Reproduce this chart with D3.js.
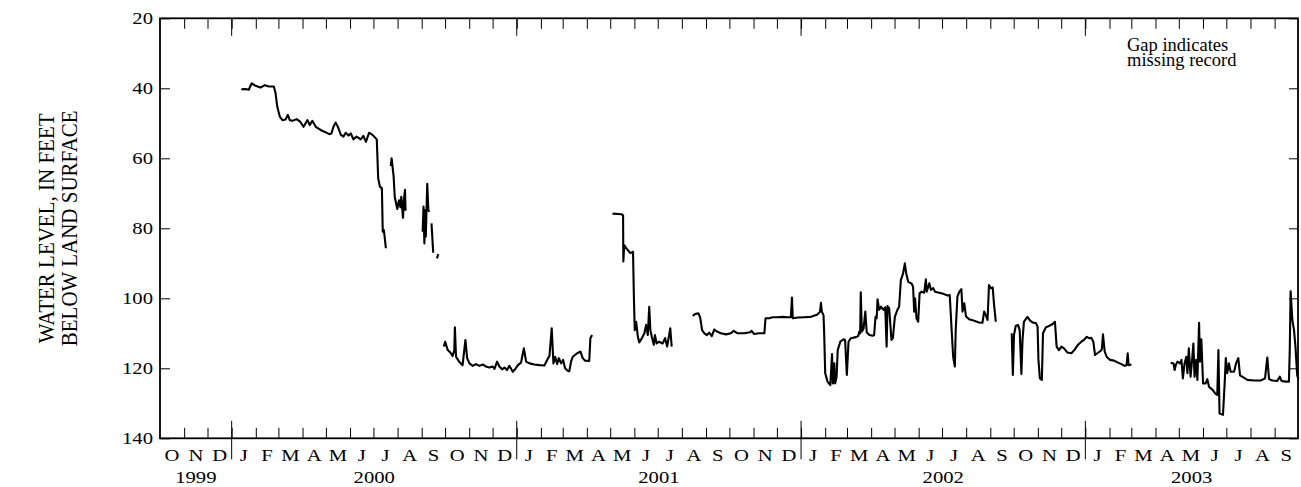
<!DOCTYPE html>
<html>
<head>
<meta charset="utf-8">
<script src="https://cdn.jsdelivr.net/npm/d3@7"></script>
<style>
  body { margin: 0; background: #fff; }
  text { font-family: "Liberation Serif", "Times New Roman", serif; fill: #000; }
</style>
</head>
<body>
<svg id="chart" width="1301" height="487"></svg>
<script>
// Water level, feet below land surface; time as decimal year.
const levelTicks = [20, 40, 60, 80, 100, 120, 140];
const monthLetters = ["J", "F", "M", "A", "M", "J", "J", "A", "S", "O", "N", "D"];
const yearLabels = [1999, 2000, 2001, 2002, 2003];
const noteLines = ["Gap indicates", "missing record"];
const titleLines = ["WATER LEVEL, IN FEET", "BELOW LAND SURFACE"];

// Continuous runs of record; gaps between runs are missing record.
const recJan2000 = [[2000.034,40.3],[2000.049,40.2],[2000.060,40.4],[2000.070,38.6],[2000.084,39.3],[2000.101,39.8],[2000.116,39.1],[2000.131,39.5],[2000.148,39.5],[2000.154,41.4],[2000.160,45.3],[2000.169,48.1],[2000.178,49.1],[2000.189,48.9],[2000.197,47.6],[2000.204,49.1],[2000.213,49.3],[2000.228,48.8],[2000.240,49.5],[2000.252,51.0],[2000.266,49.1],[2000.274,50.5],[2000.283,49.3],[2000.295,51.0],[2000.312,51.9],[2000.330,52.6],[2000.342,53.1],[2000.350,52.9],[2000.357,51.0],[2000.365,49.8],[2000.373,51.1],[2000.383,53.3],[2000.392,53.8],[2000.400,52.7],[2000.410,53.5],[2000.418,52.9],[2000.427,54.6],[2000.438,53.8],[2000.453,54.6],[2000.462,53.6],[2000.471,55.3],[2000.482,52.7],[2000.494,53.3],[2000.509,54.6],[2000.514,65.7],[2000.520,68.1],[2000.527,68.6],[2000.530,81.0],[2000.534,80.5],[2000.541,85.7]];
const recJul2000 = [[2000.558,62.2],[2000.561,60.0],[2000.568,65.0],[2000.572,71.0],[2000.581,74.5],[2000.587,72.0],[2000.592,74.0],[2000.595,71.0],[2000.601,77.0],[2000.604,72.0],[2000.608,69.0],[2000.610,75.0]];
const recAug2000a = [[2000.670,81.0],[2000.673,73.8],[2000.676,84.3],[2000.679,74.8],[2000.681,82.4],[2000.686,67.3],[2000.690,74.8],[2000.693,75.3]];
const recAug2000b = [[2000.701,78.6],[2000.707,87.0]];
const recSep2000a = [[2000.720,88.6],[2000.725,87.4]];
const recSep2000b = [[2000.744,113.8],[2000.749,112.4],[2000.758,114.8],[2000.767,115.5],[2000.775,116.5],[2000.781,114.8],[2000.783,108.3],[2000.787,116.7],[2000.798,118.1],[2000.810,119.1],[2000.820,111.9],[2000.826,117.1],[2000.834,118.6],[2000.846,119.3],[2000.857,118.8],[2000.869,119.3],[2000.881,118.9],[2000.892,119.5],[2000.904,119.8],[2000.916,119.5],[2000.922,120.2],[2000.931,118.1],[2000.939,119.5],[2000.949,120.3],[2000.957,119.8],[2000.966,120.5],[2000.974,119.3],[2000.986,121.0],[2000.995,120.2],[2001.004,119.1],[2001.015,118.4],[2001.025,114.3],[2001.033,118.1],[2001.045,118.6],[2001.062,118.9],[2001.080,119.1],[2001.097,119.2],[2001.107,117.6],[2001.115,116.5],[2001.123,108.6],[2001.129,118.6],[2001.135,116.7],[2001.142,118.8],[2001.148,117.1],[2001.156,118.6],[2001.163,117.6],[2001.170,120.0],[2001.180,120.8],[2001.185,120.8],[2001.191,118.1],[2001.197,116.7],[2001.209,115.9],[2001.224,115.2],[2001.232,117.1],[2001.240,117.8],[2001.255,117.9],[2001.259,111.4],[2001.265,110.5]];
const recMay2001 = [[2001.337,75.8],[2001.369,76.0],[2001.374,76.3],[2001.375,89.5],[2001.378,84.8],[2001.390,86.2],[2001.400,87.1],[2001.409,86.7],[2001.412,99.5],[2001.415,109.1],[2001.420,106.7],[2001.426,111.0],[2001.431,112.6],[2001.440,111.4],[2001.449,110.0],[2001.455,107.6],[2001.461,110.5],[2001.466,102.4],[2001.470,109.1],[2001.475,111.0],[2001.482,113.3],[2001.486,110.5],[2001.492,112.9],[2001.501,112.4],[2001.513,112.9],[2001.522,111.4],[2001.529,113.8],[2001.535,111.0],[2001.540,108.6],[2001.545,113.8]];
const recAug2001 = [[2001.619,105.0],[2001.627,104.5],[2001.639,104.3],[2001.645,105.4],[2001.652,109.1],[2001.660,110.0],[2001.669,110.5],[2001.677,109.8],[2001.686,110.8],[2001.695,108.9],[2001.704,109.5],[2001.718,110.0],[2001.736,110.3],[2001.753,110.0],[2001.763,109.3],[2001.777,110.0],[2001.800,110.0],[2001.821,109.7],[2001.826,109.3],[2001.835,110.2],[2001.853,110.0],[2001.871,110.0],[2001.875,105.7],[2001.888,105.7],[2001.900,105.4],[2001.918,105.4],[2001.935,105.3],[2001.953,105.4],[2001.964,105.4],[2001.968,99.8],[2001.971,105.7],[2001.988,105.5],[2002.011,105.4],[2002.035,105.3],[2002.058,104.6],[2002.067,103.8],[2002.070,101.3],[2002.073,103.8],[2002.079,104.8],[2002.081,109.1],[2002.085,121.4],[2002.093,123.8],[2002.103,124.8],[2002.109,115.9],[2002.112,124.3],[2002.117,118.6],[2002.120,124.3],[2002.125,122.4],[2002.129,114.8],[2002.138,112.4],[2002.150,111.7],[2002.155,111.9],[2002.161,121.9],[2002.167,112.4],[2002.175,111.4],[2002.193,111.1],[2002.201,110.8],[2002.205,109.5],[2002.208,110.0],[2002.210,98.3],[2002.214,109.5],[2002.220,108.6],[2002.226,103.8],[2002.231,109.7],[2002.240,110.5],[2002.252,110.7],[2002.257,110.5],[2002.262,105.3],[2002.266,105.7],[2002.269,100.3],[2002.275,103.3],[2002.281,102.4],[2002.290,103.3],[2002.296,102.6],[2002.301,113.8],[2002.304,102.2],[2002.310,102.9],[2002.318,111.9],[2002.323,111.4],[2002.330,105.3],[2002.339,103.3],[2002.345,102.4],[2002.351,94.8],[2002.359,92.9],[2002.365,90.0],[2002.370,92.9],[2002.377,95.3],[2002.389,95.8],[2002.394,96.7],[2002.398,103.8],[2002.401,100.0],[2002.406,105.7],[2002.412,106.7],[2002.417,98.6],[2002.424,98.1],[2002.433,98.4],[2002.439,94.6],[2002.442,98.1],[2002.451,95.7],[2002.457,97.6],[2002.465,97.1],[2002.471,98.1],[2002.486,98.4],[2002.503,98.8],[2002.515,99.2],[2002.523,99.1],[2002.529,108.1],[2002.535,116.7],[2002.541,119.5],[2002.544,109.1],[2002.550,99.5],[2002.557,98.1],[2002.564,97.4],[2002.568,103.8],[2002.574,101.4],[2002.580,105.1],[2002.591,106.0],[2002.609,106.4],[2002.626,106.9],[2002.638,107.0],[2002.644,103.8],[2002.650,104.8],[2002.656,106.2],[2002.661,96.2],[2002.667,97.1],[2002.674,96.9],[2002.679,101.9],[2002.685,106.7]];
const recSep2002 = [[2002.741,110.0],[2002.745,121.9],[2002.749,110.5],[2002.755,107.9],[2002.763,107.6],[2002.769,109.1],[2002.775,121.6],[2002.779,111.9],[2002.784,106.7],[2002.796,105.3],[2002.806,106.4],[2002.814,106.9],[2002.826,107.1],[2002.832,108.1],[2002.835,117.6],[2002.840,122.9],[2002.847,123.3],[2002.851,110.0],[2002.861,108.3],[2002.872,107.9],[2002.884,107.4],[2002.893,106.7],[2002.899,113.8],[2002.907,114.8],[2002.916,113.8],[2002.925,114.3],[2002.937,115.5],[2002.951,115.7],[2002.963,114.6],[2002.974,113.3],[2002.986,112.4],[2002.995,111.9],[2003.005,111.0],[2003.013,111.4],[2003.021,111.3],[2003.028,112.4],[2003.034,116.2],[2003.042,115.7],[2003.051,115.2],[2003.058,114.6],[2003.062,110.3],[2003.068,115.2],[2003.075,116.7],[2003.087,117.6],[2003.101,117.8],[2003.113,118.3],[2003.127,118.8],[2003.138,119.3],[2003.145,119.1],[2003.149,115.7],[2003.152,119.1],[2003.162,118.9]];
const recApr2003 = [[2003.300,118.4],[2003.310,118.6],[2003.314,120.5],[2003.318,119.1],[2003.324,118.1],[2003.333,118.6],[2003.338,117.6],[2003.343,122.9],[2003.349,118.6],[2003.355,116.7],[2003.359,121.4],[2003.364,114.3],[2003.370,122.4],[2003.376,117.1],[2003.380,112.9],[2003.384,122.4],[2003.390,117.6],[2003.394,123.3],[2003.400,107.0],[2003.403,118.1],[2003.408,111.7],[2003.414,124.3],[2003.423,124.3],[2003.429,123.1],[2003.435,125.3],[2003.447,126.1],[2003.458,127.3],[2003.464,127.6],[2003.468,114.8],[2003.472,132.9],[2003.478,133.1],[2003.484,133.3],[2003.490,124.3],[2003.494,117.1],[2003.499,121.4],[2003.505,118.6],[2003.511,121.0],[2003.523,121.0],[2003.530,118.6],[2003.538,117.1],[2003.544,122.0],[2003.556,122.6],[2003.570,123.3],[2003.593,123.5],[2003.616,123.5],[2003.632,122.9],[2003.640,116.9],[2003.646,123.1],[2003.658,123.5],[2003.675,123.6],[2003.684,122.4],[2003.690,123.6],[2003.704,123.8],[2003.716,123.8],[2003.719,114.8],[2003.722,98.0],[2003.728,106.2],[2003.734,109.1],[2003.739,113.8],[2003.745,121.9],[2003.749,123.1]];

const segments = [recJan2000, recJul2000, recAug2000a, recAug2000b, recSep2000a,
                  recSep2000b, recMay2001, recAug2001, recSep2002, recApr2003];

// ---- layout ----
const SX = 1.18;             // horizontal stretch of lettering
const FONT = 17.5;
const x0 = 160, x1 = 1298, y0 = 18.3, y1 = 438.3;

const svg = d3.select("#chart");

const x = d3.scaleTime()
  .domain([new Date(1999, 9, 1), new Date(2003, 9, 1)])
  .range([x0, x1]);
const y = d3.scaleLinear().domain([20, 140]).range([y0, y1]);

function toDate(t) {
  const yr = Math.floor(t);
  const a = new Date(yr, 0, 1), b = new Date(yr + 1, 0, 1);
  return new Date(+a + (t - yr) * (b - a));
}

function stretchedText(g, px, py, str, anchor, size) {
  return g.append("text")
    .attr("transform", `translate(${px},${py}) scale(${SX},1)`)
    .attr("text-anchor", anchor)
    .style("font-size", size + "px")
    .text(str);
}

const monthStarts = d3.timeMonth.range(new Date(1999, 10, 1), new Date(2003, 9, 1));
const yearStarts = d3.timeYear.range(new Date(2000, 0, 1), new Date(2003, 1, 1));

// month ticks, inward on bottom and top
svg.append("g").attr("transform", `translate(0,${y1})`)
  .call(d3.axisBottom(x).tickValues(monthStarts).tickSize(-10.5).tickSizeOuter(0).tickFormat(""))
  .call(g => { g.select(".domain").remove(); g.selectAll(".tick line").attr("stroke", "#000").attr("stroke-width", 1); });
svg.append("g").attr("transform", `translate(0,${y0})`)
  .call(d3.axisTop(x).tickValues(monthStarts).tickSize(-10.5).tickSizeOuter(0).tickFormat(""))
  .call(g => { g.select(".domain").remove(); g.selectAll(".tick line").attr("stroke", "#000").attr("stroke-width", 1); });

// year ticks: long, crossing the bottom axis; inward from the top axis
svg.append("g").selectAll("line").data(yearStarts).join("line")
  .attr("x1", d => x(d)).attr("x2", d => x(d))
  .attr("y1", y1 - 17.5).attr("y2", y1 + 21)
  .attr("stroke", "#000").attr("stroke-width", 1);
svg.append("g").selectAll("line").data(yearStarts).join("line")
  .attr("x1", d => x(d)).attr("x2", d => x(d))
  .attr("y1", y0).attr("y2", y0 + 17.5)
  .attr("stroke", "#000").attr("stroke-width", 1);

// level axis, left with labels, right ticks only
svg.append("g").attr("transform", `translate(${x0},0)`)
  .call(d3.axisLeft(y).tickValues(levelTicks).tickSize(-10).tickSizeOuter(0).tickPadding(7))
  .call(g => {
    g.select(".domain").remove();
    g.selectAll(".tick line").attr("stroke", "#000").attr("stroke-width", 1);
    g.selectAll(".tick text")
      .attr("x", -7 / SX)
      .attr("transform", `scale(${SX},1)`)
      .attr("fill", "#000")
      .style("font-family", '"Liberation Serif", serif')
      .style("font-size", FONT + "px");
  });
svg.append("g").attr("transform", `translate(${x1},0)`)
  .call(d3.axisRight(y).tickValues(levelTicks).tickSize(-9).tickSizeOuter(0).tickFormat(""))
  .call(g => { g.select(".domain").remove(); g.selectAll(".tick line").attr("stroke", "#000").attr("stroke-width", 1); });

// frame
svg.append("rect")
  .attr("x", x0).attr("y", y0).attr("width", x1 - x0).attr("height", y1 - y0)
  .attr("fill", "none").attr("stroke", "#000").attr("stroke-width", 1.8);

// month letters, centred in each month
const allMonths = d3.timeMonth.range(new Date(1999, 9, 1), new Date(2003, 9, 1));
const monthG = svg.append("g");
allMonths.forEach(d => {
  const mid = (x(d) + x(d3.timeMonth.offset(d, 1))) / 2;
  stretchedText(monthG, mid, 461, monthLetters[d.getMonth()], "middle", FONT);
});

// year labels, centred in the part of each year shown
const yearG = svg.append("g");
yearLabels.forEach(yr => {
  const a = Math.max(+new Date(yr, 0, 1), +x.domain()[0]);
  const b = Math.min(+new Date(yr + 1, 0, 1), +x.domain()[1]);
  stretchedText(yearG, (x(new Date(a)) + x(new Date(b))) / 2, 482.5, String(yr), "middle", FONT);
});

// axis title, two rotated lines
const titleG = svg.append("g");
titleLines.forEach((t, i) => {
  titleG.append("text")
    .attr("transform", `translate(${54 + i * 23},${(y0 + y1) / 2}) rotate(-90) scale(1,1.1)`)
    .attr("text-anchor", "middle")
    .style("font-size", "21px")
    .text(t);
});

// note
const noteG = svg.append("g");
noteLines.forEach((t, i) => {
  noteG.append("text")
    .attr("x", 1127).attr("y", 50.5 + i * 15)
    .style("font-size", "18.5px")
    .text(t);
});

// hydrograph
const line = d3.line()
  .x(d => x(toDate(d[0])))
  .y(d => y(d[1]));
svg.append("g").selectAll("path").data(segments).join("path")
  .attr("d", line)
  .attr("fill", "none")
  .attr("stroke", "#000")
  .attr("stroke-width", 2.1)
  .attr("stroke-linejoin", "round");
</script>
</body>
</html>
